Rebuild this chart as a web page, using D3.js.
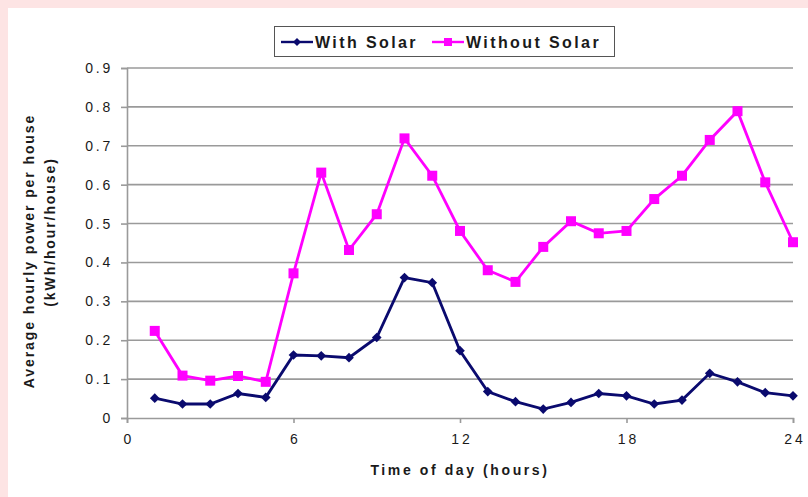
<!DOCTYPE html>
<html>
<head>
<meta charset="utf-8">
<script src="https://cdn.jsdelivr.net/npm/d3@7"></script>
<style>
  body { margin: 0; background: #ffffff; }
  svg { display: block; }
  text { font-family: Arial, "Liberation Sans", sans-serif; fill: #1a1a1a; }
</style>
</head>
<body>
<div id="chart"></div>
<script>
// data
var hours = [1,2,3,4,5,6,7,8,9,10,11,12,13,14,15,16,17,18,19,20,21,22,23,24];
var withSolar = [0.051,0.036,0.036,0.063,0.053,0.162,0.160,0.155,0.207,0.361,0.348,0.173,
                 0.068,0.042,0.023,0.040,0.063,0.057,0.036,0.046,0.115,0.093,0.065,0.057];
var withoutSolar = [0.224,0.109,0.096,0.108,0.093,0.372,0.631,0.432,0.524,0.719,0.623,0.481,
                    0.380,0.350,0.440,0.506,0.475,0.481,0.563,0.623,0.715,0.789,0.606,0.452];
var xTicks = [0, 6, 12, 18, 24];
var yTicks = [0, 0.1, 0.2, 0.3, 0.4, 0.5, 0.6, 0.7, 0.8, 0.9];
var seriesNames = ["With Solar", "Without Solar"];

var width = 808, height = 497;
var margin = {top: 68, right: 15, bottom: 79, left: 127};
var navy = "#0a0a6e", magenta = "#ff00ff", grid = "#9a9a9a";

var svg = d3.select("#chart")
  .append("svg")
    .attr("width", width)
    .attr("height", height);

// pink frame top and left
svg.append("rect").attr("x", 0).attr("y", 0).attr("width", width).attr("height", 8).attr("fill", "#fde4e4");
svg.append("rect").attr("x", 0).attr("y", 0).attr("width", 8).attr("height", height).attr("fill", "#fde4e4");

var x = d3.scaleLinear()
    .domain([0, 24])
    .range([margin.left, width - margin.right]);

var y = d3.scaleLinear()
    .domain([0, 0.9])
    .range([height - margin.bottom, margin.top]);

// gridlines
svg.append("g")
  .selectAll("line")
  .data(yTicks.slice(1))
  .enter().append("line")
    .attr("x1", x(0))
    .attr("x2", x(24))
    .attr("y1", function(d){ return y(d); })
    .attr("y2", function(d){ return y(d); })
    .attr("stroke", grid)
    .attr("stroke-width", 1.6);

// y axis
var yAxis = svg.append("g")
  .attr("transform", "translate(" + x(0) + ",0)")
  .call(d3.axisLeft(y).tickValues(yTicks).tickSize(6).tickPadding(8)
        .tickFormat(function(d){ return d === 0 ? "0" : d3.format(".1f")(d); }));
yAxis.select(".domain").attr("stroke", grid).attr("stroke-width", 1.6);
yAxis.selectAll(".tick line").attr("stroke", grid).attr("stroke-width", 1.6);
yAxis.selectAll(".tick text")
  .attr("font-size", "14px")
  .attr("letter-spacing", "2.8px")
  .style("fill", "#1a1a1a");

// x axis
var xAxis = svg.append("g")
  .attr("transform", "translate(0," + y(0) + ")")
  .call(d3.axisBottom(x).tickValues(xTicks).tickSize(5).tickPadding(11));
xAxis.select(".domain").attr("stroke", grid).attr("stroke-width", 1.6);
xAxis.selectAll(".tick line").attr("stroke", grid).attr("stroke-width", 1.6);
xAxis.selectAll(".tick text")
  .attr("font-size", "14px")
  .attr("letter-spacing", "2.8px")
  .attr("dx", "1.4px")
  .style("fill", "#1a1a1a");

// lines and markers
var line = d3.line()
  .x(function(d){ return x(d[0]); })
  .y(function(d){ return y(d[1]); });

var solarPts = hours.map(function(h, i){ return [h, withSolar[i]]; });
var noSolarPts = hours.map(function(h, i){ return [h, withoutSolar[i]]; });

svg.append("path")
  .datum(noSolarPts)
  .attr("d", line)
  .attr("fill", "none")
  .attr("stroke", magenta)
  .attr("stroke-width", 2.8);

svg.append("path")
  .datum(solarPts)
  .attr("d", line)
  .attr("fill", "none")
  .attr("stroke", navy)
  .attr("stroke-width", 2.8);

svg.selectAll(".sq")
  .data(noSolarPts)
  .enter().append("rect")
    .attr("class", "sq")
    .attr("x", function(d){ return x(d[0]) - 5; })
    .attr("y", function(d){ return y(d[1]) - 5; })
    .attr("width", 10)
    .attr("height", 10)
    .attr("fill", magenta);

var diamond = d3.symbol().type(d3.symbolDiamond2).size(60);
svg.selectAll(".dm")
  .data(solarPts)
  .enter().append("path")
    .attr("class", "dm")
    .attr("d", diamond)
    .attr("transform", function(d){ return "translate(" + x(d[0]) + "," + y(d[1]) + ")"; })
    .attr("fill", navy);

// legend
var legend = svg.append("g");
legend.append("rect")
  .attr("x", 274.5).attr("y", 26.5)
  .attr("width", 340).attr("height", 30)
  .attr("fill", "#fff")
  .attr("stroke", "#555")
  .attr("stroke-width", 1);

var legendX = [281, 432];
var legendColors = [navy, magenta];
seriesNames.forEach(function(name, i){
  legend.append("line")
    .attr("x1", legendX[i]).attr("x2", legendX[i] + 32)
    .attr("y1", 42).attr("y2", 42)
    .attr("stroke", legendColors[i])
    .attr("stroke-width", 2.4);
  if (i === 0) {
    legend.append("path")
      .attr("d", d3.symbol().type(d3.symbolDiamond2).size(40))
      .attr("transform", "translate(" + (legendX[i] + 16) + ",42)")
      .attr("fill", navy);
  } else {
    legend.append("rect")
      .attr("x", legendX[i] + 12).attr("y", 38)
      .attr("width", 8).attr("height", 8)
      .attr("fill", magenta);
  }
  legend.append("text")
    .attr("x", legendX[i] + 34)
    .attr("y", 48)
    .attr("font-size", "16px")
    .attr("font-weight", "bold")
    .attr("letter-spacing", "2.4px")
    .text(name);
});

// axis titles
svg.append("text")
  .attr("x", (x(0) + x(24)) / 2)
  .attr("y", 475)
  .attr("text-anchor", "middle")
  .attr("font-size", "14px")
  .attr("font-weight", "bold")
  .attr("letter-spacing", "2.6px")
  .text("Time of day (hours)");

svg.append("text")
  .attr("transform", "translate(34,251) rotate(-90)")
  .attr("text-anchor", "middle")
  .attr("font-size", "14px")
  .attr("font-weight", "bold")
  .attr("letter-spacing", "1.9px")
  .text("Average hourly power per house");

svg.append("text")
  .attr("transform", "translate(55,232) rotate(-90)")
  .attr("text-anchor", "middle")
  .attr("font-size", "14px")
  .attr("font-weight", "bold")
  .attr("letter-spacing", "1.9px")
  .text("(kWh/hour/house)");
</script>
</body>
</html>
